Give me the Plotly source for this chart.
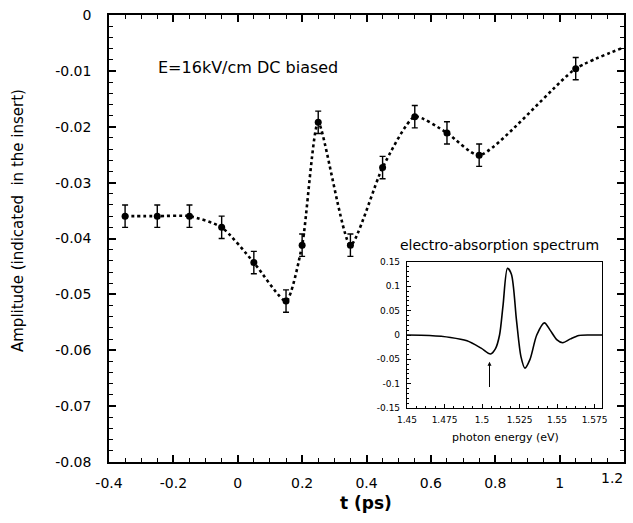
import plotly.graph_objects as go

# Main data: time delay (ps) and amplitude
t_ps = [-0.35, -0.25, -0.15, -0.05, 0.05, 0.15, 0.20, 0.25, 0.35, 0.45, 0.55, 0.65, 0.75, 1.05]
amp = [-0.036, -0.036, -0.036, -0.038, -0.0443, -0.0512, -0.0412, -0.0192, -0.0412, -0.0273, -0.0182, -0.0211, -0.0251, -0.0096]
amp_err = [0.002] * len(t_ps)

# Dotted guide curve: data points plus the curve end at t=1.2
curve_t = t_ps + [1.2]
curve_y = amp + [-0.0058]

# Inset: electro-absorption spectrum
ea_energy = [1.45, 1.465, 1.479, 1.490, 1.4994, 1.5057, 1.509, 1.5117, 1.514, 1.517, 1.5196, 1.523, 1.526,
             1.5286, 1.532, 1.5365, 1.5416, 1.5454, 1.55, 1.5538, 1.559, 1.5646, 1.572, 1.582]
ea_signal = [0.0, -0.001, -0.005, -0.012, -0.027, -0.039, -0.028, 0.0, 0.06, 0.137, 0.125, 0.03, -0.045,
             -0.068, -0.05, 0.0, 0.025, 0.01, -0.01, -0.016, -0.008, -0.001, 0.0, 0.0]
arrow_x = 1.505
arrow_tip = -0.055
arrow_tail = -0.11

main_xticks = [-0.4, -0.2, 0, 0.2, 0.4, 0.6, 0.8, 1, 1.2]
main_xlabels = ["-0.4", "-0.2", "0", "0.2", "0.4", "0.6", "0.8", "1", "1.2"]
main_yticks = [0, -0.01, -0.02, -0.03, -0.04, -0.05, -0.06, -0.07, -0.08]
main_ylabels = ["0", "-0.01", "-0.02", "-0.03", "-0.04", "-0.05", "-0.06", "-0.07", "-0.08"]
inset_xticks = [1.45, 1.475, 1.5, 1.525, 1.55, 1.575]
inset_xlabels = ["1.45", "1.475", "1.5", "1.525", "1.55", "1.575"]
inset_yticks = [0.15, 0.1, 0.05, 0, -0.05, -0.1, -0.15]
inset_ylabels = ["0.15", "0.1", "0.05", "0", "-0.05", "-0.1", "-0.15"]

FONT = "DejaVu Sans, Liberation Sans, Arial, sans-serif"

# plot-area geometry in pixels (for placing free text)
L, R, T, B = 109, 624, 15, 462
PW, PH = R - L, B - T

def px(x):
    return (x - L) / PW

def py(y):
    return (B - y) / PH

fig = go.Figure()
fig.add_trace(go.Scatter(
    x=curve_t, y=curve_y, mode="lines",
    line=dict(color="black", width=2.6, dash="dot", shape="spline", smoothing=0.6),
    hoverinfo="skip", showlegend=False))
fig.add_trace(go.Scatter(
    x=t_ps, y=amp, mode="markers",
    marker=dict(color="black", size=7),
    error_y=dict(type="data", array=amp_err, visible=True, color="black", thickness=1.4, width=3),
    showlegend=False))

fig.add_trace(go.Scatter(
    x=ea_energy, y=ea_signal, mode="lines",
    line=dict(color="black", width=1.6, shape="spline", smoothing=0.8),
    xaxis="x2", yaxis="y2", showlegend=False))

fig.add_annotation(x=arrow_x, y=arrow_tip, ax=arrow_x, ay=arrow_tail,
                   xref="x2", yref="y2", axref="x2", ayref="y2",
                   showarrow=True, arrowhead=2, arrowsize=0.8, arrowwidth=1, arrowcolor="black", text="")

axis_common = dict(showgrid=False, zeroline=False, showline=True, linecolor="black", linewidth=1.5,
                   ticks="inside", tickcolor="black", mirror="ticks", automargin=False)

# the last x label sits left of its tick in the original, so it is drawn separately
shown_xlabels = main_xlabels[:-1] + [""]

fig.update_layout(
    width=633, height=523,
    margin=dict(l=L, r=633 - R, t=T, b=523 - B, autoexpand=False),
    paper_bgcolor="white", plot_bgcolor="white",
    font=dict(family=FONT, color="black"),
    xaxis=dict(range=[-0.4, 1.2], tickvals=main_xticks, ticktext=shown_xlabels,
               ticklen=7, tickwidth=1.5, ticklabelstandoff=7,
               tickfont=dict(size=14, family=FONT),
               minor=dict(dtick=0.05, ticks="inside", ticklen=4, tickcolor="black", tickwidth=1.2),
               **axis_common),
    yaxis=dict(range=[-0.08, 0], tickvals=main_yticks, ticktext=main_ylabels,
               ticklen=7, tickwidth=1.5, ticklabelstandoff=13,
               tickfont=dict(size=14, family=FONT),
               minor=dict(dtick=0.002, ticks="inside", ticklen=4, tickcolor="black", tickwidth=1.2),
               **axis_common),
    xaxis2=dict(domain=[px(407), px(602)], anchor="y2", range=[1.45, 1.58],
                tickvals=inset_xticks, ticktext=inset_xlabels,
                ticklen=4, tickwidth=1, ticklabelstandoff=3,
                tickfont=dict(size=9, family=FONT),
                minor=dict(dtick=0.00625, ticks="inside", ticklen=2, tickcolor="black"),
                showgrid=False, zeroline=False, showline=True, linecolor="black", linewidth=1.2,
                ticks="inside", tickcolor="black", mirror=True, automargin=False),
    yaxis2=dict(domain=[py(408), py(262)], anchor="x2", range=[-0.15, 0.15],
                tickvals=inset_yticks, ticktext=inset_ylabels,
                ticklen=4, tickwidth=1, ticklabelstandoff=4,
                tickfont=dict(size=9, family=FONT),
                minor=dict(dtick=0.01, ticks="inside", ticklen=2, tickcolor="black"),
                showgrid=False, zeroline=False, showline=True, linecolor="black", linewidth=1.2,
                ticks="inside", tickcolor="black", mirror=True, automargin=False),
)

def label(x, y, text, size, angle=0):
    fig.add_annotation(x=px(x), y=py(y), xref="paper", yref="paper", text=text,
                       xanchor="center", yanchor="middle", textangle=angle,
                       showarrow=False, font=dict(size=size, family=FONT))

label(248, 67, "E=16kV/cm DC biased", 16)
label(499, 245, "electro-absorption spectrum", 14)
label(505, 437, "photon energy (eV)", 11)
label(366, 503, "<b>t (ps)</b>", 17)
label(18, 221, "Amplitude (indicated  in the insert)", 15, angle=-90)
label(612, 478, main_xlabels[-1], 14)

fig.write_html("out.html", config={"displayModeBar": False},
               post_script="document.body.style.margin='0';")
